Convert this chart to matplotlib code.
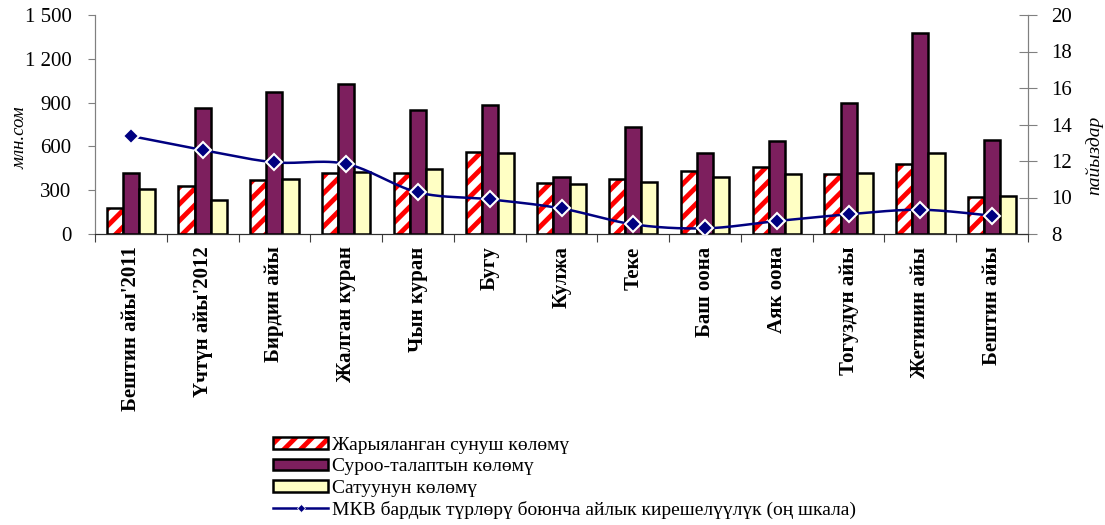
import numpy as np
import matplotlib.pyplot as plt
import matplotlib.patches as mpatches
from matplotlib.lines import Line2D
import matplotlib as mpl

mpl.rcParams['font.family'] = ['Liberation Serif', 'DejaVu Serif']
mpl.rcParams['hatch.linewidth'] = 3.5

months = ["Бештин айы'2011", "Үчтүн айы'2012", "Бирдин айы", "Жалган куран",
          "Чын куран", "Бугу", "Кулжа", "Теке", "Баш оона", "Аяк оона",
          "Тогуздун айы", "Жетинин айы", "Бештин айы"]
offer = [176, 329, 370, 420, 420, 562, 351, 376, 429, 460, 410, 479, 255]
demand = [420, 863, 970, 1027, 849, 881, 393, 734, 556, 638, 896, 1375, 645]
sales = [306, 231, 375, 425, 447, 557, 342, 356, 392, 408, 415, 558, 258]
yield_pct = [13.37, 12.60, 11.93, 11.84, 10.28, 9.90, 9.40, 8.53, 8.31, 8.71, 9.08, 9.33, 9.00]

names = ['Жарыяланган сунуш көлөмү', 'Суроо-талаптын көлөмү', 'Сатуунун көлөмү',
         'МКВ бардык түрлөрү боюнча айлык кирешелүүлүк (оң шкала)']

c_red = '#FF0000'
c_purple = '#7D1F5E'
c_yellow = '#FFFFC4'
c_navy = '#000080'


def smooth(x, y, n=30):
    # excel-like smoothed line (bezier through points)
    x = np.asarray(x, float)
    y = np.asarray(y, float)
    px, py = [], []
    for i in range(len(x) - 1):
        i0, i3 = max(i - 1, 0), min(i + 2, len(x) - 1)
        c1x = x[i] + (x[i + 1] - x[i0]) / 6
        c1y = y[i] + (y[i + 1] - y[i0]) / 6
        c2x = x[i + 1] - (x[i3] - x[i]) / 6
        c2y = y[i + 1] - (y[i3] - y[i]) / 6
        t = np.linspace(0, 1, n)
        a, b, c, d = (1 - t) ** 3, 3 * t * (1 - t) ** 2, 3 * t ** 2 * (1 - t), t ** 3
        px.append(a * x[i] + b * c1x + c * c2x + d * x[i + 1])
        py.append(a * y[i] + b * c1y + c * c2y + d * y[i + 1])
    return np.concatenate(px), np.concatenate(py)


fig = plt.figure(figsize=(11.05, 5.25), dpi=100)
ax = fig.add_axes([95 / 1105, 1 - 234 / 525, 933 / 1105, 219 / 525])
ax2 = ax.twinx()

x = np.arange(len(months))
w = 0.225
ax.bar(x - w, offer, w, color='white', edgecolor=c_red, hatch='//', lw=0, zorder=2)
ax.bar(x - w, offer, w, fill=False, edgecolor='black', lw=1.8, zorder=3)
ax.bar(x, demand, w, color=c_purple, edgecolor='black', lw=1.8, zorder=3)
ax.bar(x + w, sales, w, color=c_yellow, edgecolor='black', lw=1.8, zorder=3)

sx, sy = smooth(x, yield_pct)
ax2.plot(sx, sy, color=c_navy, lw=1.8, zorder=4)
ax2.plot(x, yield_pct, ls='none', marker='D', ms=8, mfc=c_navy, mec='white', mew=1.5, zorder=5)

ax.set_xlim(-0.5, len(months) - 0.5)
ax.set_ylim(0, 1500)
ax.set_yticks(range(0, 1501, 300))
ax.set_yticklabels([f'{v:,}'.replace(',', ' ') for v in range(0, 1501, 300)])
ax2.set_ylim(8, 20)
ax2.set_yticks(range(8, 21, 2))

ax.set_xticks(np.arange(len(months) + 1) - 0.5, minor=False)
ax.set_xticklabels([])
ax.set_xticks(x, minor=True)
ax.set_xticklabels(months, minor=True, rotation=90, fontsize=15, fontweight='bold', va='top')
ax.tick_params(axis='x', which='major', direction='out', length=6, color='#404040')
ax.tick_params(axis='x', which='minor', length=0, pad=9)

ax.tick_params(axis='y', direction='out', length=5, color='#808080', labelsize=15, pad=12)
ax2.tick_params(axis='y', direction='inout', length=13, color='#808080', labelsize=15, pad=10)

for a in (ax, ax2):
    a.spines['top'].set_visible(False)
    a.spines['left'].set_color('#808080')
    a.spines['right'].set_color('#808080')
    a.spines['bottom'].set_color('#303030')
    a.patch.set_visible(False)
ax.set_zorder(ax2.get_zorder() - 1)
ax2.patch.set_visible(False)

fig.text(20 / 1105, 1 - 138 / 525, 'млн.сом', rotation=90, style='italic', fontsize=13.5,
         ha='center', va='center')
fig.text(1094 / 1105, 1 - 155 / 525, 'пайыздар', rotation=90, style='italic', fontsize=14,
         ha='center', va='center')

hatched = (mpatches.Patch(facecolor='white', edgecolor=c_red, hatch='//', lw=0),
           mpatches.Patch(fill=False, edgecolor='black', lw=1.8))
handles = [
    hatched,
    mpatches.Patch(facecolor=c_purple, edgecolor='black', lw=1.8),
    mpatches.Patch(facecolor=c_yellow, edgecolor='black', lw=1.8),
    Line2D([], [], color=c_navy, lw=1.8, marker='D', ms=4.5, mfc=c_navy, mec='white', mew=0.5),
]
leg = fig.legend(handles, names, loc='upper left', bbox_to_anchor=(273 / 1105, 1 - 437 / 525),
                 frameon=False, fontsize=14, handlelength=2.85, handleheight=0.55,
                 handletextpad=0.2, labelspacing=0.22, borderpad=0, borderaxespad=0)

fig.savefig('out.png', dpi=100)
